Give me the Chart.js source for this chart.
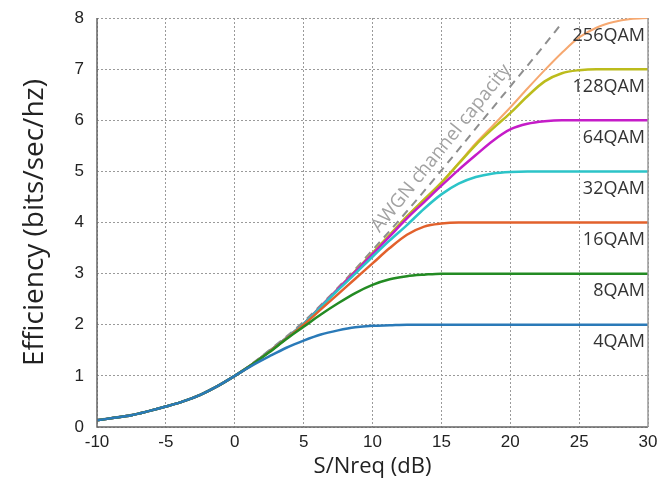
<!DOCTYPE html>
<html>
<head>
  <title>QAM spectral efficiency</title>
  <script src="https://cdn.jsdelivr.net/npm/chart.js"></script>
  <style>
    html, body { margin: 0; padding: 0; background: #fff; }
  </style>
</head>
<body>
  <canvas id="effChart" width="661" height="492"></canvas>

  <script>
    // S/N points (dB) shared by the modulation curves
    const snr = [-10, -8.75, -7.5, -6.25, -5, -3.75, -2.5, -1.25, 0, 1.25, 2.5, 3.75, 5, 6.25, 7.5, 8.75,
                 10, 11.25, 12.5, 13.75, 15, 16.25, 17.5, 18.75, 20, 21.25, 22.5, 23.75, 25, 26.25, 27.5, 28.75, 30];

    const qam4   = [0.13, 0.18, 0.23, 0.31, 0.40, 0.50, 0.63, 0.80, 1.00, 1.20, 1.38, 1.55, 1.69, 1.81, 1.89, 1.95,
                    1.98, 1.99, 2.00, 2.00, 2.00, 2.00, 2.00, 2.00, 2.00, 2.00, 2.00, 2.00, 2.00, 2.00, 2.00, 2.00, 2.00];
    const qam8   = [0.13, 0.18, 0.23, 0.31, 0.40, 0.50, 0.63, 0.80, 1.00, 1.22, 1.46, 1.72, 1.96, 2.20, 2.42, 2.62,
                    2.78, 2.89, 2.95, 2.98, 3.00, 3.00, 3.00, 3.00, 3.00, 3.00, 3.00, 3.00, 3.00, 3.00, 3.00, 3.00, 3.00];
    const qam16  = [0.13, 0.18, 0.23, 0.31, 0.40, 0.50, 0.63, 0.80, 1.00, 1.22, 1.47, 1.73, 2.00, 2.30, 2.60, 2.90,
                    3.20, 3.50, 3.76, 3.92, 3.98, 4.00, 4.00, 4.00, 4.00, 4.00, 4.00, 4.00, 4.00, 4.00, 4.00, 4.00, 4.00];
    const qam32  = [0.13, 0.18, 0.23, 0.31, 0.40, 0.50, 0.63, 0.80, 1.00, 1.22, 1.48, 1.74, 2.02, 2.35, 2.68, 3.00,
                    3.33, 3.65, 3.95, 4.27, 4.55, 4.76, 4.89, 4.96, 4.99, 5.00, 5.00, 5.00, 5.00, 5.00, 5.00, 5.00, 5.00];
    const qam64  = [0.13, 0.18, 0.23, 0.31, 0.40, 0.50, 0.63, 0.80, 1.00, 1.22, 1.48, 1.74, 2.02, 2.36, 2.70, 3.04,
                    3.38, 3.73, 4.08, 4.40, 4.72, 5.03, 5.32, 5.60, 5.82, 5.93, 5.98, 6.00, 6.00, 6.00, 6.00, 6.00, 6.00];
    const qam128 = [0.13, 0.18, 0.23, 0.31, 0.40, 0.50, 0.63, 0.80, 1.00, 1.22, 1.48, 1.74, 2.02, 2.36, 2.70, 3.05,
                    3.40, 3.76, 4.12, 4.45, 4.78, 5.15, 5.52, 5.84, 6.14, 6.47, 6.76, 6.92, 6.98, 7.00, 7.00, 7.00, 7.00];
    const qam256 = [0.13, 0.18, 0.23, 0.31, 0.40, 0.50, 0.63, 0.80, 1.00, 1.22, 1.48, 1.74, 2.02, 2.36, 2.70, 3.05,
                    3.40, 3.76, 4.12, 4.45, 4.78, 5.16, 5.55, 5.90, 6.25, 6.62, 6.98, 7.32, 7.62, 7.81, 7.92, 7.98, 8.00];

    // AWGN capacity (dashed)
    const capSnr = [-10, -7.5, -5, -2.5, 0, 2.5, 5, 7.5, 10, 12.5, 15, 17.5, 20, 22.5, 23.6];
    const capacity = [0.14, 0.24, 0.40, 0.64, 1.00, 1.50, 2.06, 2.73, 3.46, 4.22, 5.02, 5.84, 6.66, 7.48, 7.85];

    const qamNames = ['4QAM', '8QAM', '16QAM', '32QAM', '64QAM', '128QAM', '256QAM'];
    const qamSeries = [qam4, qam8, qam16, qam32, qam64, qam128, qam256];
    const qamColors = ['#2a7ab8', '#238b23', '#e2612c', '#2cc4c8', '#c51cc8', '#bcbc1c', '#f6a870'];

    const toPoints = (xs, ys) => xs.map((x, i) => ({ x: x, y: ys[i] }));

    const datasets = qamSeries.map((ys, i) => ({
      label: qamNames[i],
      data: toPoints(snr, ys),
      borderColor: qamColors[i],
      borderWidth: i === 6 ? 2 : 2.5,
      cubicInterpolationMode: 'monotone',
      pointRadius: 0,
      fill: false
    }));
    datasets.push({
      label: 'AWGN channel capacity',
      data: toPoints(capSnr, capacity),
      borderColor: '#8e8e8e',
      borderWidth: 2,
      borderDash: [8, 6],
      cubicInterpolationMode: 'monotone',
      pointRadius: 0,
      fill: false
    });

    const annotate = {
      id: 'annotate',
      afterDatasetsDraw(chart) {
        const { ctx, chartArea: a, scales: { x, y } } = chart;
        ctx.save();
        // solid frame on left / bottom / right
        ctx.lineWidth = 1.5;
        ctx.strokeStyle = '#666';
        ctx.beginPath();
        ctx.moveTo(a.left, a.top);
        ctx.lineTo(a.left, a.bottom);
        ctx.lineTo(a.right, a.bottom);
        ctx.stroke();
        ctx.strokeStyle = '#999';
        ctx.beginPath();
        ctx.moveTo(a.right, a.bottom);
        ctx.lineTo(a.right, a.top);
        ctx.stroke();

        ctx.font = '18px "Open Sans"';
        ctx.fillStyle = '#333';
        ctx.textAlign = 'right';
        ctx.textBaseline = 'middle';
        qamSeries.forEach((ys, i) => {
          const level = ys[ys.length - 1];
          ctx.fillText(qamNames[i], a.right - 3, y.getPixelForValue(level - 0.34));
        });

        ctx.translate(x.getPixelForValue(15), y.getPixelForValue(5.45));
        ctx.rotate(-51 * Math.PI / 180);
        ctx.font = '19px "Open Sans"';
        ctx.fillStyle = '#a2a2a2';
        ctx.textAlign = 'center';
        ctx.fillText('AWGN channel capacity', 0, 0);
        ctx.restore();
      }
    };

    new Chart(document.getElementById('effChart'), {
      type: 'line',
      data: { datasets: datasets },
      options: {
        responsive: false,
        animation: false,
        layout: { padding: { top: 18, right: 13, left: 0, bottom: 0 } },
        plugins: { legend: { display: false }, tooltip: { enabled: false } },
        scales: {
          x: {
            type: 'linear',
            min: -10,
            max: 30,
            afterFit: (s) => { s.height = 65; s.paddingLeft = 0; s.paddingRight = 0; },
            ticks: { stepSize: 5, padding: 5, color: '#222', font: { family: 'Liberation Sans', size: 17 } },
            grid: { color: '#9a9a9a', lineWidth: 1, drawTicks: false },
            border: { display: false, dash: [2, 2] },
            title: { display: true, text: 'S/Nreq (dB)', color: '#222', padding: { top: 0, bottom: 12 }, font: { family: 'Open Sans', size: 22 } }
          },
          y: {
            min: 0,
            max: 8,
            afterFit: (s) => { s.width = 97; s.paddingTop = 0; s.paddingBottom = 0; },
            ticks: { stepSize: 1, padding: 13, color: '#222', font: { family: 'Liberation Sans', size: 17 } },
            grid: { color: '#9a9a9a', lineWidth: 1, drawTicks: false },
            border: { display: false, dash: [2, 2] },
            title: { display: true, text: 'Efficiency (bits/sec/hz)', color: '#222', padding: { top: 18, bottom: 0 }, font: { family: 'Open Sans', size: 28 } }
          }
        }
      },
      plugins: [annotate]
    });
  </script>
</body>
</html>
